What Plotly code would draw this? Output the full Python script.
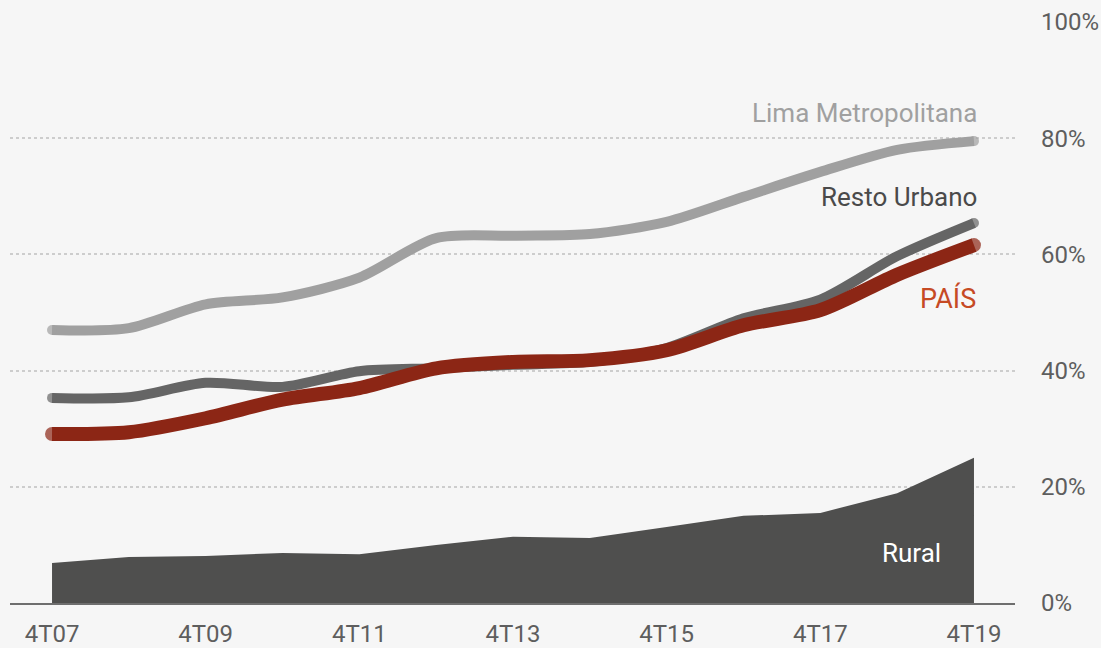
import plotly.graph_objects as go

categories = ["4T07", "4T08", "4T09", "4T10", "4T11", "4T12", "4T13",
              "4T14", "4T15", "4T16", "4T17", "4T18", "4T19"]
lima = [47.0, 47.3, 51.4, 52.6, 56.0, 62.8, 63.2, 63.5, 65.6, 69.9, 74.2, 78.0, 79.5]
resto = [35.3, 35.4, 37.9, 37.2, 39.9, 40.4, 41.0, 41.5, 43.9, 49.0, 52.2, 59.7, 65.4]
pais = [29.1, 29.4, 31.8, 35.0, 37.0, 40.4, 41.5, 41.8, 43.5, 47.8, 50.4, 56.5, 61.6]
rural = [6.9, 7.9, 8.1, 8.6, 8.4, 10.0, 11.4, 11.2, 13.1, 15.0, 15.5, 18.9, 25.0]
y_ticks = [0, 20, 40, 60, 80, 100]
y_ticktext = ["0%", "20%", "40%", "60%", "80%", "100%"]

x = list(range(len(categories)))
FONT = "Roboto"
BG = "#f6f6f6"
FS = 24
LFS = 26

def cap_sizes(n, w):
    return [w] + [0] * (n - 2) + [w]

fig = go.Figure()
fig.add_trace(go.Scatter(
    x=x, y=rural, mode="lines", fill="tozeroy",
    line=dict(width=0, color="#4f4f4e"), fillcolor="#4f4f4e",
    hoverinfo="skip"))

for vals, col, w in [(lima, "#a0a0a0", 10), (resto, "#656565", 10), (pais, "#8c2615", 14)]:
    fig.add_trace(go.Scatter(
        x=x, y=vals, mode="lines+markers",
        line=dict(width=w, color=col, shape="spline", smoothing=0.8),
        marker=dict(size=cap_sizes(len(x), w), color=col, line=dict(width=0)),
        hoverinfo="skip"))

last = len(categories) - 1
fig.add_annotation(x=last, y=lima[-1], xref="x", yref="y", text="Lima Metropolitana",
                   showarrow=False, xanchor="right", yanchor="middle", xshift=5, yshift=28,
                   font=dict(family=FONT, size=LFS, color="#a0a0a0"))
fig.add_annotation(x=last, y=resto[-1], xref="x", yref="y", text="Resto Urbano",
                   showarrow=False, xanchor="right", yanchor="middle", xshift=5, yshift=26,
                   font=dict(family=FONT, size=LFS, color="#4a4a4a"))
fig.add_annotation(x=last, y=pais[-1], xref="x", yref="y", text="PAÍS",
                   showarrow=False, xanchor="right", yanchor="middle", xshift=4, yshift=-53,
                   font=dict(family=FONT, size=LFS + 1, color="#c64a24"))
fig.add_annotation(x=last, y=rural[-1], xref="x", yref="y", text="Rural",
                   showarrow=False, xanchor="right", yanchor="middle", xshift=-31, yshift=-95,
                   font=dict(family=FONT, size=LFS, color="#ffffff"))

fig.update_layout(
    width=1101, height=648,
    margin=dict(l=10, r=86, t=22, b=45),
    paper_bgcolor=BG, plot_bgcolor=BG,
    showlegend=False,
    font=dict(family=FONT, size=FS, color="#5e5e5e"),
    xaxis=dict(
        range=[-0.547, 12.534], tickmode="array", tickvals=x[::2],
        ticktext=categories[::2], showgrid=False, zeroline=False,
        showline=True, linecolor="#6e6e6e", linewidth=2,
        ticks="", ticklabelstandoff=8, automargin=False,
        tickfont=dict(family=FONT, size=FS, color="#5e5e5e"), fixedrange=True),
    yaxis=dict(
        range=[0, 100], side="right", tickmode="array", tickvals=y_ticks,
        ticktext=y_ticktext, showgrid=True, gridcolor="#cdcdcd", gridwidth=2,
        griddash="dot", zeroline=False, ticks="", ticklabelstandoff=25,
        automargin=False,
        tickfont=dict(family=FONT, size=FS, color="#5e5e5e"), fixedrange=True),
)

fig.write_html(
    "out.html",
    config={"displayModeBar": False},
    post_script="document.body.style.margin='0';document.body.style.overflow='hidden';"
                "document.body.style.background='#f6f6f6';",
)
